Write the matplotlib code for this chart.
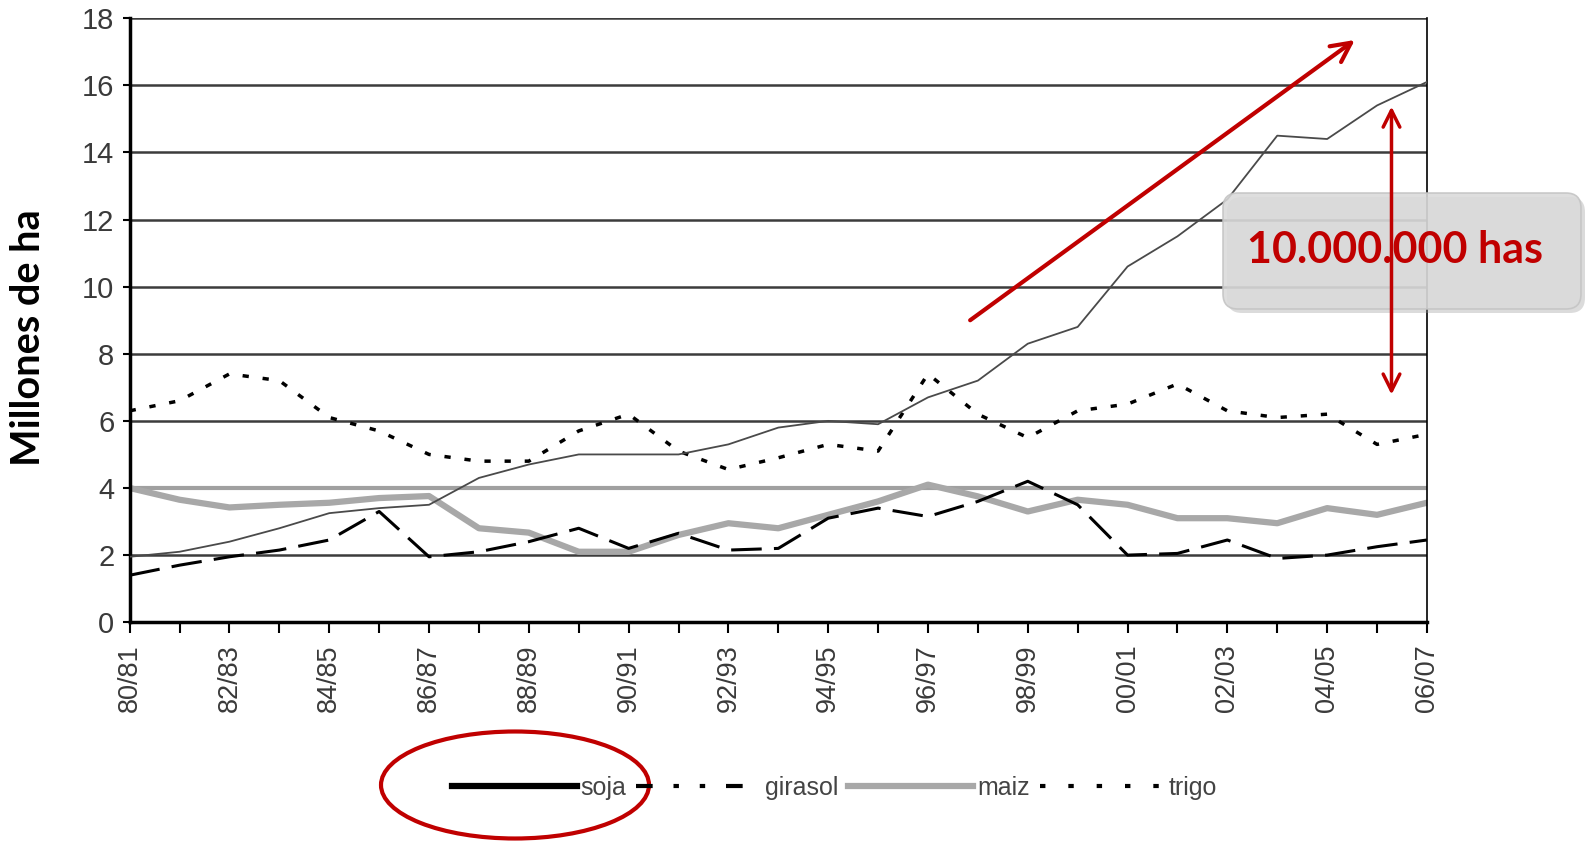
import matplotlib
matplotlib.use('Agg')
import matplotlib.pyplot as plt
from matplotlib.lines import Line2D
from matplotlib.patches import FancyBboxPatch, Ellipse

seasons = ['80/81', '81/82', '82/83', '83/84', '84/85', '85/86', '86/87', '87/88', '88/89',
           '89/90', '90/91', '91/92', '92/93', '93/94', '94/95', '95/96', '96/97', '97/98',
           '98/99', '99/00', '00/01', '01/02', '02/03', '03/04', '04/05', '05/06', '06/07']

soja = [1.95, 2.1, 2.4, 2.8, 3.25, 3.4, 3.5, 4.3, 4.7, 5.0, 5.0, 5.0, 5.3, 5.8,
        6.0, 5.9, 6.7, 7.2, 8.3, 8.8, 10.6, 11.5, 12.6, 14.5, 14.4, 15.4, 16.1]
girasol = [1.4, 1.7, 1.95, 2.15, 2.45, 3.3, 1.95, 2.1, 2.4, 2.8, 2.2, 2.65, 2.15, 2.2,
           3.1, 3.4, 3.15, 3.6, 4.2, 3.5, 2.0, 2.05, 2.45, 1.9, 2.0, 2.25, 2.45]
maiz = [4.0, 3.65, 3.42, 3.5, 3.56, 3.7, 3.76, 2.8, 2.67, 2.1, 2.1, 2.6, 2.95, 2.8,
        3.2, 3.6, 4.1, 3.75, 3.3, 3.65, 3.5, 3.1, 3.1, 2.95, 3.4, 3.2, 3.56]
trigo = [6.3, 6.6, 7.4, 7.2, 6.1, 5.7, 5.0, 4.8, 4.8, 5.7, 6.2, 5.1, 4.55, 4.9,
         5.3, 5.1, 7.4, 6.2, 5.5, 6.3, 6.5, 7.1, 6.3, 6.1, 6.2, 5.3, 5.6]

legend_labels = ['soja', 'girasol', 'maiz', 'trigo']
annotation_text = '10.000.000 has'
RED = '#c00000'

plt.rcParams['font.family'] = ['Liberation Sans', 'DejaVu Sans']

fig = plt.figure(figsize=(15.89, 8.43), dpi=100)
ax = fig.add_axes([0.0816, 0.2619, 0.8164, 0.7165])
ax.set_facecolor('none')

x = list(range(len(seasons)))

# horizontal grid
for gy in range(2, 20, 2):
    if gy == 4:
        ax.axhline(gy, color='#a0a0a0', lw=3, zorder=1)
    else:
        ax.axhline(gy, color='#3c3c3c', lw=1.8, zorder=1)

ax.plot(x, maiz, color='#a8a8a8', lw=4.5, solid_capstyle='round', zorder=2)
ax.plot(x, girasol, color='black', lw=2.2, dashes=(10, 4), zorder=3)
ax.plot(x, trigo, color='black', lw=2.5, dashes=(1.8, 4), zorder=3)
ax.plot(x, soja, color='#4a4a4a', lw=1.3, zorder=4)

ax.set_xlim(0, 26)
ax.set_ylim(0, 18)
ax.set_xticks(x, minor=True)
ax.set_xticks(x[::2])
ax.set_xticklabels(seasons[::2], rotation=90, fontsize=19.5, color='#3a3a3a')
ax.set_yticks(range(0, 20, 2))
ax.tick_params(axis='y', labelsize=21, labelcolor='#3a3a3a', length=5, width=1.5, pad=6)
ax.tick_params(axis='x', which='both', length=8, width=1.5, pad=8)

ax.spines['left'].set_linewidth(2.5)
ax.spines['bottom'].set_linewidth(2.5)
ax.spines['right'].set_linewidth(1.2)
ax.spines['top'].set_visible(False)

fig.text(0.018, 0.60, 'Millones de ha', rotation=90, ha='center', va='center',
         fontsize=28.5, fontweight='bold', family=['Lato', 'DejaVu Sans'])

# red trend arrow
ax.annotate('', xy=(24.6, 17.4), xytext=(16.8, 8.95),
            arrowprops=dict(arrowstyle='->', color=RED, lw=3, mutation_scale=35),
            zorder=8)

# label box
shadow = FancyBboxPatch((12.27, 5.30), 3.58, 1.16, boxstyle='round,pad=0,rounding_size=0.15',
                        transform=fig.dpi_scale_trans, facecolor='#9a9a9a', edgecolor='none',
                        alpha=0.35, zorder=5, clip_on=False)
box = FancyBboxPatch((12.23, 5.34), 3.58, 1.16, boxstyle='round,pad=0,rounding_size=0.15',
                     transform=fig.dpi_scale_trans, facecolor='#dadada', edgecolor='#c4c4c4',
                     lw=1.2, alpha=0.88, zorder=6, clip_on=False)
ax.add_patch(shadow)
ax.add_patch(box)
fig.text(13.95 / 15.89, 5.93 / 8.43, annotation_text, ha='center', va='center',
         fontsize=31, fontweight='bold', color=RED, family=['Lato', 'DejaVu Sans'], zorder=7)

# double arrow
ax.annotate('', xy=(25.29, 15.45), xytext=(25.29, 6.7),
            arrowprops=dict(arrowstyle='<->', color=RED, lw=2.5, mutation_scale=30),
            zorder=9)

# legend
handles = [
    Line2D([], [], color='black', lw=4.5),
    Line2D([], [], color='black', lw=3, dashes=(4, 5, 1.3, 5, 1.3, 5)),
    Line2D([], [], color='#a8a8a8', lw=4.5),
    Line2D([], [], color='black', lw=3, dashes=(1.3, 5.5)),
]
fig.legend(handles, legend_labels, loc='center', bbox_to_anchor=(0.525, 0.065), ncol=4,
           frameon=False, fontsize=18, handlelength=5.0, handletextpad=0.15,
           columnspacing=0.4, labelcolor='#444444')

ell = Ellipse((5.15, 0.58), 2.68, 1.07, transform=fig.dpi_scale_trans, fill=False,
              edgecolor=RED, lw=3)
fig.add_artist(ell)

fig.savefig('out.png', dpi=100, facecolor='white')
